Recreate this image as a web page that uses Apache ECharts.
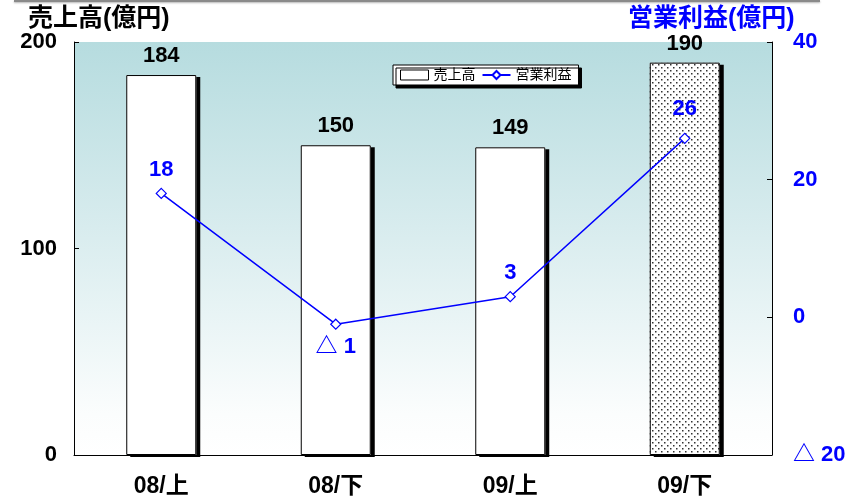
<!DOCTYPE html>
<html><head><meta charset="utf-8">
<script src="https://cdn.jsdelivr.net/npm/echarts@6/dist/echarts.min.js"></script>
<style>html,body{margin:0;padding:0;background:#fff}#c{width:854px;height:498px}</style>
</head><body><div id="c"></div>
<script>
const categories = ['08/上', '08/下', '09/上', '09/下'];
const sales = [184, 150, 149, 190];
const profit = [18, -1, 3, 26];
const leftTicks = [0, 100, 200];
const rightTicks = [-20, 0, 20, 40];

const FONT = '"Liberation Sans", Arial, "Noto Sans CJK JP", sans-serif';
const chart = echarts.init(document.getElementById('c'), null, {renderer: 'canvas'});

// dotted pattern
const pc = document.createElement('canvas');
pc.width = 6; pc.height = 6;
const g = pc.getContext('2d');
g.fillStyle = '#fff'; g.fillRect(0, 0, 6, 6);
g.fillStyle = '#333';
g.fillRect(1, 1, 1.5, 1.5);
g.fillRect(4, 4, 1.5, 1.5);

const fmtTri = v => (v < 0 ? '△ ' + Math.abs(v) : String(v));
const labelPos = ['top', 'bottom', 'top', 'top'];
const labelDist = [7, 6, 7, 13];

chart.setOption({
  animation: false,
  graphic: [
    {type: 'line', shape: {x1: 14, y1: 1, x2: 820, y2: 1}, style: {stroke: '#8a8a8a', lineWidth: 2, shadowColor: 'rgba(0,0,0,0.3)', shadowBlur: 2, shadowOffsetY: 1}},
    {type: 'text', left: 28, top: 7, style: {text: '売上高(億円)', font: 'bold 25px ' + FONT, fill: '#000'}},
    {type: 'text', left: 628, top: 7, style: {text: '営業利益(億円)', font: 'bold 25px ' + FONT, fill: '#0000ff'}}
  ],
  grid: {
    left: 74, right: 82, top: 42, bottom: 43, show: true, borderWidth: 0,
    backgroundColor: {type: 'linear', x: 0, y: 0, x2: 0, y2: 1,
      colorStops: [{offset: 0, color: '#b6dcdf'}, {offset: 0.45, color: '#d8ecee'}, {offset: 0.9, color: '#fbfdfd'}, {offset: 1, color: '#ffffff'}]}
  },
  legend: {
    left: 393, top: 65, itemGap: 6, padding: [3, 7, 3, 7],
    backgroundColor: '#fff', borderColor: '#000', borderWidth: 1,
    shadowColor: '#000', shadowOffsetX: 3, shadowOffsetY: 3, shadowBlur: 0,
    itemWidth: 28, itemHeight: 10,
    textStyle: {fontSize: 14, color: '#000', fontFamily: FONT},
    data: [
      {name: '売上高', icon: 'rect', itemStyle: {color: '#fff', borderColor: '#000', borderWidth: 1, shadowBlur: 0, shadowOffsetX: 0, shadowOffsetY: 0}},
      {name: '営業利益'}
    ]
  },
  xAxis: {
    type: 'category', data: categories,
    axisLine: {lineStyle: {color: '#000', width: 1}},
    axisTick: {inside: true, length: 7, lineStyle: {color: '#000'}},
    axisLabel: {color: '#000', fontSize: 23, fontWeight: 'bold', fontFamily: FONT, margin: 20}
  },
  yAxis: [
    {type: 'value', min: 0, max: 200, interval: 100, position: 'left',
      axisLine: {show: true, lineStyle: {color: '#000'}},
      axisTick: {show: true, inside: true, length: 5, lineStyle: {color: '#000'}},
      splitLine: {show: false},
      axisLabel: {color: '#000', fontSize: 22, fontWeight: 'bold', fontFamily: FONT, margin: 17}},
    {type: 'value', min: -20, max: 40, interval: 20, position: 'right',
      axisLine: {show: true, lineStyle: {color: '#000'}},
      axisTick: {show: true, inside: true, length: 5, lineStyle: {color: '#000'}},
      splitLine: {show: false},
      axisLabel: {color: '#0000ff', fontSize: 22, fontWeight: 'bold', fontFamily: FONT, margin: 21, formatter: fmtTri}}
  ],
  series: [
    {
      name: '売上高', type: 'bar', yAxisIndex: 0, barWidth: 70,
      data: sales.map((v, i) => ({
        value: v,
        itemStyle: i === 3 ? {color: {image: pc, repeat: 'repeat'}} : {}
      })),
      itemStyle: {color: '#fff', borderWidth: 0, shadowColor: '#000', shadowOffsetX: 4, shadowOffsetY: 2, shadowBlur: 0},
      label: {show: true, position: 'top', distance: 8, color: '#000', fontSize: 22, fontWeight: 'bold', fontFamily: FONT}
    },
    {
      name: '売上高枠', type: 'bar', yAxisIndex: 0, barWidth: 70, barGap: '-100%', silent: true,
      data: sales,
      itemStyle: {color: 'rgba(0,0,0,0)', borderColor: '#000', borderWidth: 1}
    },
    {
      name: '営業利益', type: 'line', yAxisIndex: 1, z: 5,
      symbol: 'diamond', symbolSize: 10,
      lineStyle: {color: '#0000ff', width: 1.5},
      itemStyle: {color: '#fff', borderColor: '#0000ff', borderWidth: 1.2},
      data: profit.map((v, i) => ({
        value: v,
        label: {position: labelPos[i], distance: labelDist[i]}
      })),
      label: {show: true, color: '#0000ff', fontSize: 22, fontWeight: 'bold', fontFamily: FONT, formatter: p => fmtTri(p.value)}
    }
  ]
});
</script></body></html>
